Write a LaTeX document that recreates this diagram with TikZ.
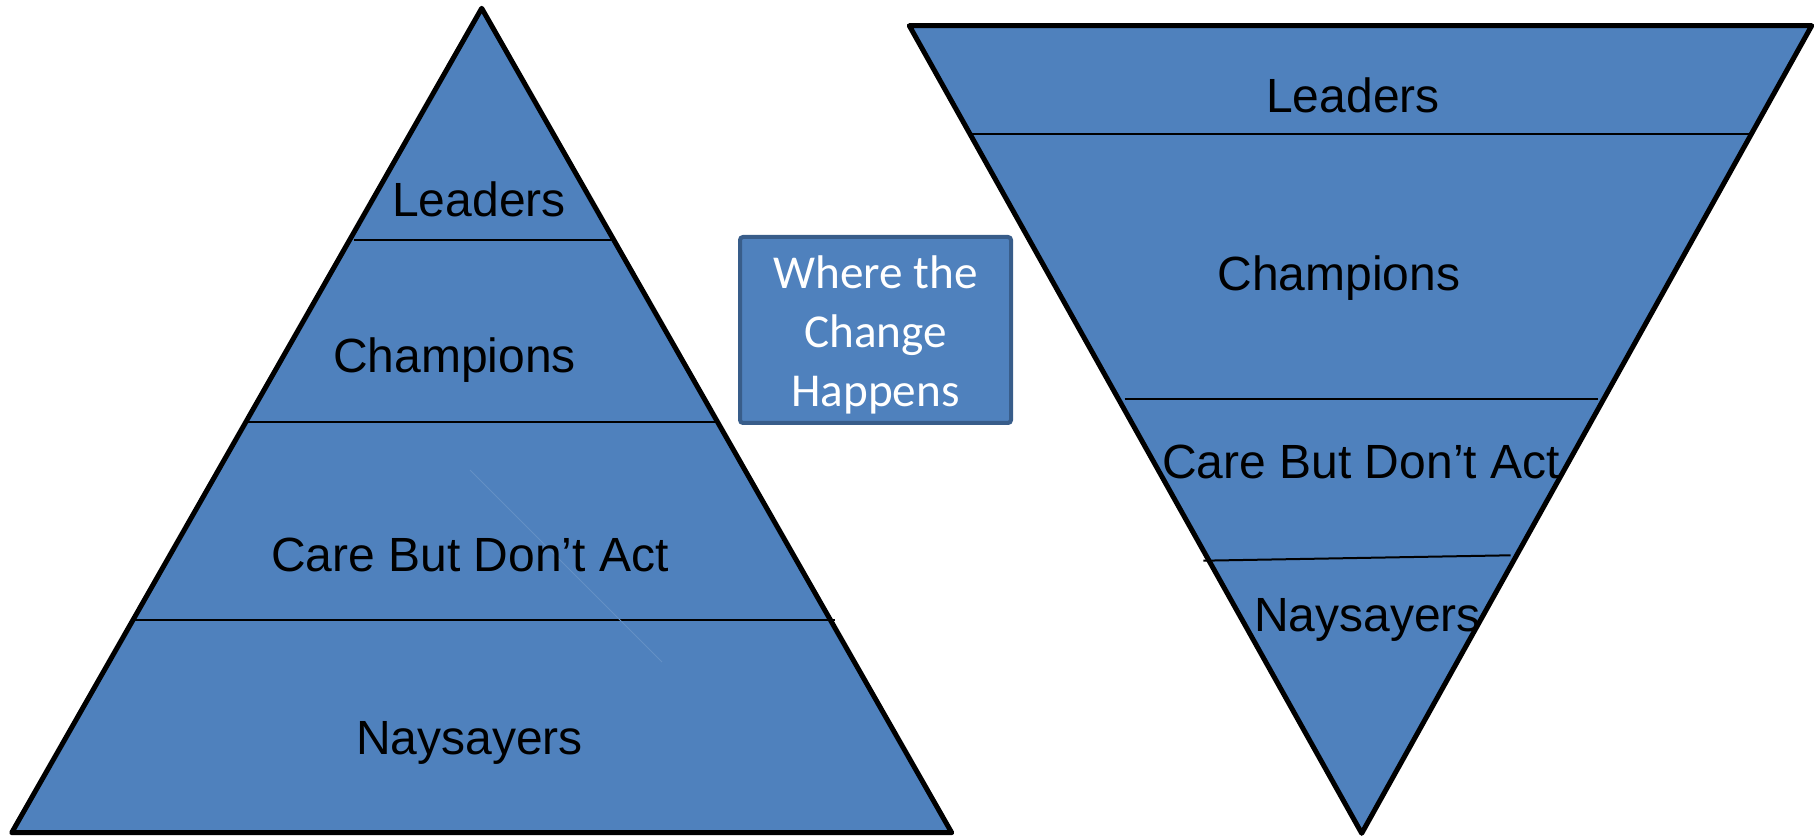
\documentclass[tikz,border=0pt]{standalone}
\usepackage{fontspec}
\setmainfont{Liberation Sans}
\newfontfamily\notefont{Carlito}
\definecolor{tierblue}{HTML}{4F81BD}
\definecolor{tieredge}{HTML}{385D8A}

\begin{document}
\begin{tikzpicture}[x=0.5pt,y=-0.5pt,
  tier/.style={fill=tierblue,draw=black,line width=2.5pt,line join=round},
  split/.style={draw=black,line width=1pt},
  tierlabel/.style={font=\fontsize{24}{28}\selectfont,anchor=base,inner sep=0pt},
  note/.style={draw=tieredge,fill=tierblue,line width=2pt,rounded corners=1.5pt,
    minimum width=135.5pt,minimum height=93pt},
  notetext/.style={text=white,align=center,inner sep=0pt,
    font=\notefont\fontsize{23.6}{29.5}\selectfont}]
 \useasboundingbox (0,0) rectangle (1818,838);

 % pyramid
 \coordinate (top)   at (481.7,8.3);
 \coordinate (baseL) at (11.7,832.7);
 \coordinate (baseR) at (951.7,832.7);
 \draw[tier] (top) -- (baseR) -- (baseL) -- cycle;
 \draw[split] (353.6,240) -- (612,240);
 \draw[split] (247,422) -- (716,422);
 \draw[split] (134.5,620) -- (835,620);
 \draw[tierblue!88!white,line width=0.4pt] (470,470) -- (662,662);
 \node[tierlabel] (pLeaders)   at (479,216.8) {Leaders};
 \node[tierlabel] (pChampions) at (454.5,373) {Champions};
 \node[tierlabel] (pCare)      at (470,571.5) {Care But Don’t Act};
 \node[tierlabel] (pNay)       at (469.6,754.8) {Naysayers};

 % inverted pyramid
 \coordinate (topL)   at (909.3,25.7);
 \coordinate (topR)   at (1811.7,25.7);
 \coordinate (bottom) at (1361.7,833.3);
 \draw[tier] (topL) -- (topR) -- (bottom) -- cycle;
 \draw[split] (971.6,134.5) -- (1750.7,134.5);
 \draw[split] (1124.6,398.8) -- (1597.7,398.8);
 \draw[split] (1203.3,560.7) -- (1510.7,555.3);
 \node[tierlabel] (iLeaders)   at (1353,112.5) {Leaders};
 \node[tierlabel] (iChampions) at (1339,291) {Champions};
 \node[tierlabel] (iCare)      at (1361,478.8) {Care But Don’t Act};
 \node[tierlabel] (iNay)       at (1367.5,631.7) {Naysayers};

 \node[note] (change) at (875.5,330) {};
 \node[notetext] (changeText) at ([yshift=-2.4pt]change.center) {Where the\\Change\\Happens};
\end{tikzpicture}
\end{document}
